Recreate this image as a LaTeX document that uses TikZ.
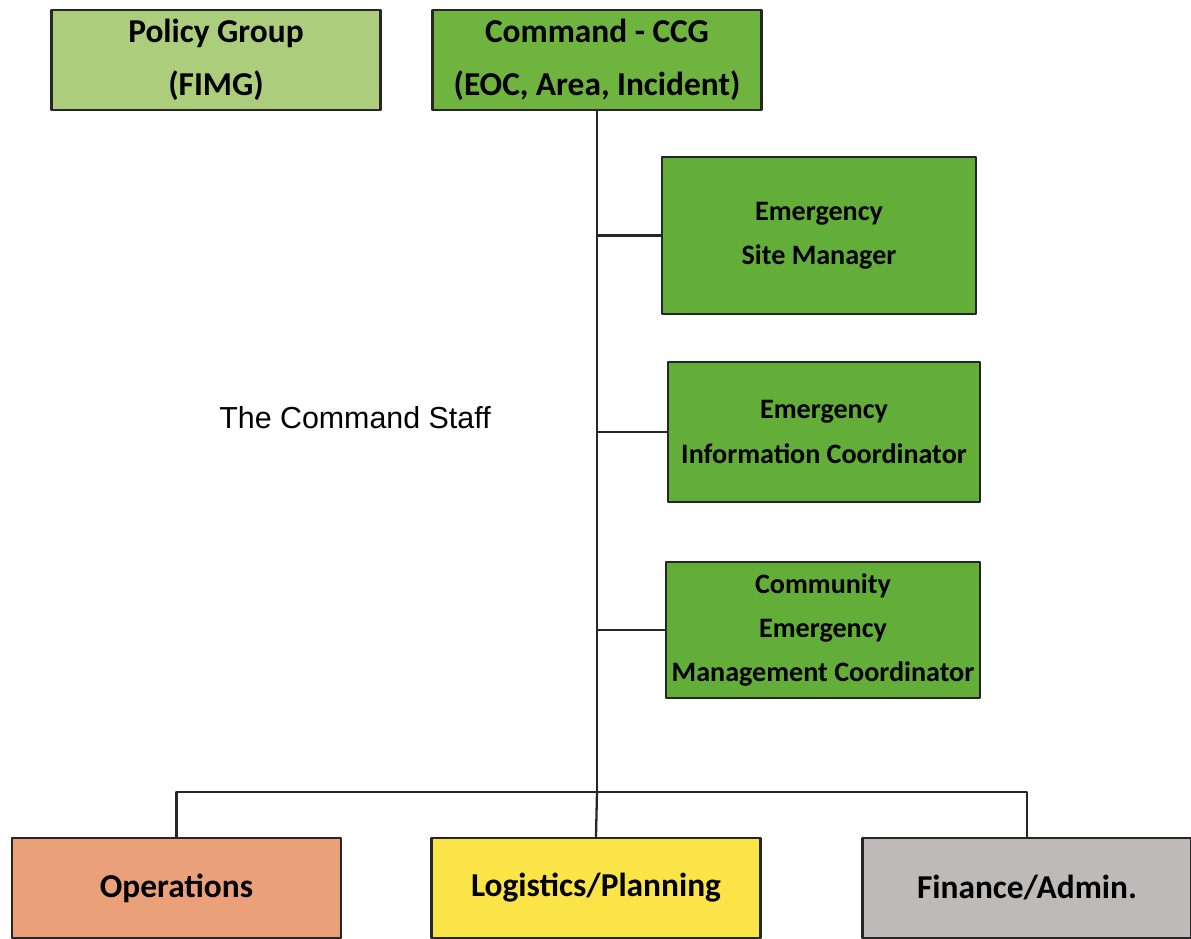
\documentclass[tikz,border=0pt]{standalone}
\usepackage{fontspec}
\setmainfont{Carlito}
\newfontfamily\arialfont{Liberation Sans}
\definecolor{policygreen}{RGB}{172,206,124}
\definecolor{commandgreen}{RGB}{110,180,62}
\definecolor{staffgreen}{RGB}{98,174,56}
\definecolor{opsorange}{RGB}{234,160,120}
\definecolor{logyellow}{RGB}{250,228,72}
\definecolor{fingray}{RGB}{190,186,186}
\begin{document}
\begin{tikzpicture}[x=0.02cm,y=-0.02cm, line join=round, line cap=round]
			\tikzset{
				unit/.style={draw=black!85, line width=1.6pt, align=center, inner sep=0pt},
				headbox/.style={unit, minimum width=6.58cm, minimum height=2cm, font=\fontsize{19}{30.5}\selectfont\bfseries},
				staffbox/.style={unit, fill=staffgreen, font=\fontsize{16}{25.2}\selectfont\bfseries},
				wire/.style={line width=1.3pt, black!85}
			}
			\useasboundingbox (0,0) rectangle (1191,938);
			% top row
			\node[headbox, fill=policygreen] (policy) at (216,60) {Policy Group\\(FIMG)};
			\node[headbox, fill=commandgreen] (cmd) at (597,60) {Command - CCG\\(EOC, Area, Incident)};
			% command staff
			\node[staffbox, minimum width=6.28cm, minimum height=3.14cm] (site) at (819,235.5) {Emergency\\Site Manager};
			\node[staffbox, minimum width=6.24cm, minimum height=2.8cm] (info) at (824,432) {Emergency\\Information Coordinator};
			\node[staffbox, minimum width=6.28cm, minimum height=2.72cm] (comm) at (823,630) {Community\\Emergency\\Management Coordinator};
			\node[font=\arialfont\fontsize{17.3}{20}\selectfont] (staff) at (355,418) {The Command Staff};
			% sections
			\node[headbox, fill=opsorange] (ops) at (176.5,888) {Operations};
			\node[headbox, fill=logyellow] (log) at (596,888) {Logistics/Planning};
			\node[headbox, fill=fingray] (fin) at (1027,888) {Finance/Admin.};
			\coordinate (bus) at (597,792);
			\draw[wire] (cmd.south) -- (bus);
			\draw[wire] (site.west -| bus) -- (site.west);
			\draw[wire] (info.west -| bus) -- (info.west);
			\draw[wire] (comm.west -| bus) -- (comm.west);
			\draw[wire] (ops.north) -- (ops.north |- bus) -- (fin.north |- bus) -- (fin.north);
			\draw[wire] (bus) -- (log.north);
		\end{tikzpicture}
\end{document}
